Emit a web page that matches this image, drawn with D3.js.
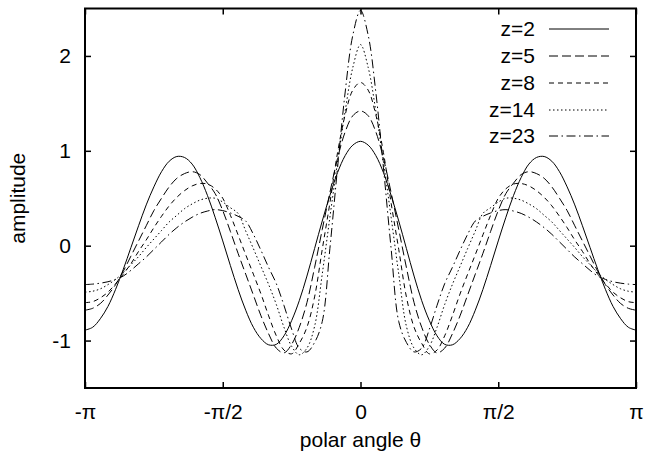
<!DOCTYPE html>
<html>
<head>
<meta charset="utf-8">
<script src="https://cdn.jsdelivr.net/npm/d3@7"></script>
<style>
  html, body { margin: 0; padding: 0; background: #fff; }
  svg { display: block; }
  text { font-family: "Liberation Sans", Arial, Helvetica, sans-serif; fill: #000; }
</style>
</head>
<body>
<svg id="chart" width="657" height="456"></svg>
<script>
// ---- data (polar angle in degrees) ----
const theta = [-180,-175,-170,-165,-160,-155,-150,-145,-140,-135,-130,-125,-120,-115,-110,-105,-100,-95,-90,-85,-80,-75,-70,-65,-60,-55,-50,-45,-40,-35,-30,-25,-20,-15,-10,-5,0,
  5,10,15,20,25,30,35,40,45,50,55,60,65,70,75,80,85,90,95,100,105,110,115,120,125,130,135,140,145,150,155,160,165,170,175,180];

const z2 = [-0.89,-0.86,-0.77,-0.64,-0.46,-0.25,-0.02,0.21,0.43,0.62,0.78,0.89,0.94,0.93,0.86,0.72,0.53,0.30,0.05,-0.21,-0.46,-0.68,-0.86,-0.98,-1.045,-1.04,-0.95,-0.79,-0.58,-0.32,-0.03,0.26,0.53,0.77,0.95,1.06,1.10,
  1.06,0.95,0.77,0.53,0.26,-0.03,-0.32,-0.58,-0.79,-0.95,-1.04,-1.045,-0.98,-0.86,-0.68,-0.46,-0.21,0.05,0.30,0.53,0.72,0.86,0.93,0.94,0.89,0.78,0.62,0.43,0.21,-0.02,-0.25,-0.46,-0.64,-0.77,-0.86,-0.89];

const z5 = [-0.68,-0.66,-0.61,-0.52,-0.41,-0.27,-0.11,0.05,0.21,0.37,0.50,0.62,0.71,0.76,0.78,0.75,0.66,0.55,0.37,0.15,-0.08,-0.30,-0.52,-0.74,-0.93,-1.08,-1.13,-1.04,-0.86,-0.60,-0.23,0.17,0.56,0.92,1.20,1.37,1.42,
  1.37,1.20,0.92,0.56,0.17,-0.23,-0.60,-0.86,-1.04,-1.13,-1.08,-0.93,-0.74,-0.52,-0.30,-0.08,0.15,0.37,0.55,0.66,0.75,0.78,0.76,0.71,0.62,0.50,0.37,0.21,0.05,-0.11,-0.27,-0.41,-0.52,-0.61,-0.66,-0.68];

const z8 = [-0.60,-0.59,-0.55,-0.49,-0.40,-0.30,-0.19,-0.06,0.06,0.19,0.31,0.42,0.51,0.58,0.63,0.655,0.65,0.60,0.50,0.32,0.115,-0.095,-0.30,-0.51,-0.74,-0.95,-1.10,-1.14,-1.03,-0.86,-0.54,-0.04,0.45,0.98,1.38,1.64,1.72,
  1.64,1.38,0.98,0.45,-0.04,-0.54,-0.86,-1.03,-1.14,-1.10,-0.95,-0.74,-0.51,-0.30,-0.095,0.115,0.32,0.50,0.60,0.65,0.655,0.63,0.58,0.51,0.42,0.31,0.19,0.06,-0.06,-0.19,-0.30,-0.40,-0.49,-0.55,-0.59,-0.60];

const z14 = [-0.49,-0.48,-0.455,-0.41,-0.355,-0.285,-0.20,-0.115,-0.02,0.07,0.16,0.25,0.32,0.39,0.44,0.48,0.50,0.50,0.46,0.40,0.34,0.155,-0.03,-0.22,-0.41,-0.62,-0.86,-1.06,-1.15,-1.08,-0.85,-0.30,0.30,0.88,1.42,1.88,2.12,
  1.88,1.42,0.88,0.30,-0.30,-0.85,-1.08,-1.15,-1.06,-0.86,-0.62,-0.41,-0.22,-0.03,0.155,0.34,0.40,0.46,0.50,0.50,0.48,0.44,0.39,0.32,0.25,0.16,0.07,-0.02,-0.115,-0.20,-0.285,-0.355,-0.41,-0.455,-0.48,-0.49];

const z23 = [-0.41,-0.405,-0.395,-0.38,-0.355,-0.32,-0.26,-0.19,-0.12,-0.04,0.04,0.12,0.19,0.25,0.30,0.34,0.365,0.38,0.37,0.345,0.31,0.26,0.12,-0.05,-0.23,-0.40,-0.63,-0.88,-1.08,-1.12,-1.02,-0.80,-0.03,0.82,1.62,2.22,2.48,
  2.22,1.62,0.82,-0.03,-0.80,-1.02,-1.12,-1.08,-0.88,-0.63,-0.40,-0.23,-0.05,0.12,0.26,0.31,0.345,0.37,0.38,0.365,0.34,0.30,0.25,0.19,0.12,0.04,-0.04,-0.12,-0.19,-0.26,-0.32,-0.355,-0.38,-0.395,-0.405,-0.41];

const seriesNames = ["z=2", "z=5", "z=8", "z=14", "z=23"];
const seriesValues = [z2, z5, z8, z14, z23];

const xTickValues = [-180, -90, 0, 90, 180];
const xTickLabels = ["-\u03C0", "-\u03C0/2", "0", "\u03C0/2", "\u03C0"];
const yTickValues = [-1, 0, 1, 2];
const yTickLabels = ["-1", "0", "1", "2"];

// ---- styles ----
const dashes = ["none", "9,4", "5,4", "1.5,2.5", "9,3.5,1.5,3.5"];
const FONT = 21;

// ---- layout ----
const W = 657, H = 456;
const plot = { left: 85, right: 636, top: 8.5, bottom: 388 };

const svg = d3.select("#chart");
const x = d3.scaleLinear().domain([-180, 180]).range([plot.left, plot.right]);
const y = d3.scaleLinear().domain([-1.5, 2.5]).range([plot.bottom, plot.top]);

svg.append("defs").append("clipPath").attr("id", "clip")
  .append("rect").attr("x", plot.left).attr("y", plot.top)
  .attr("width", plot.right - plot.left).attr("height", plot.bottom - plot.top);

// curves
const line = d3.line().curve(d3.curveCatmullRom.alpha(0.5))
  .x((d, i) => x(theta[i])).y(d => y(d));

const g = svg.append("g").attr("clip-path", "url(#clip)");
seriesValues.forEach((vals, k) => {
  g.append("path").datum(vals)
    .attr("d", line)
    .attr("fill", "none").attr("stroke", "#000").attr("stroke-width", 1)
    .attr("stroke-dasharray", dashes[k]);
});

// axes (inward ticks, mirrored)
const TK = 6;
const fmtX = d => xTickLabels[xTickValues.indexOf(d)];
const fmtY = d => yTickLabels[yTickValues.indexOf(d)];

const gx = svg.append("g").attr("transform", `translate(0,${plot.bottom})`)
  .call(d3.axisBottom(x).tickValues(xTickValues).tickFormat(fmtX).tickSize(-TK).tickPadding(16));
const gxt = svg.append("g").attr("transform", `translate(0,${plot.top})`)
  .call(d3.axisTop(x).tickValues(xTickValues).tickFormat("").tickSize(-TK));
const gy = svg.append("g").attr("transform", `translate(${plot.left},0)`)
  .call(d3.axisLeft(y).tickValues(yTickValues).tickFormat(fmtY).tickSize(-TK).tickPadding(14));
const gyr = svg.append("g").attr("transform", `translate(${plot.right},0)`)
  .call(d3.axisRight(y).tickValues(yTickValues).tickFormat("").tickSize(-TK));

[gx, gxt, gy, gyr].forEach(a => {
  a.select(".domain").remove();
  a.selectAll(".tick line").attr("stroke", "#000").attr("stroke-width", 1.5);
  a.selectAll("text").style("font-size", FONT + "px")
    .style("font-family", "'Liberation Sans', Arial, sans-serif").attr("fill", "#000");
});

// frame
svg.append("rect").attr("x", plot.left).attr("y", plot.top)
  .attr("width", plot.right - plot.left).attr("height", plot.bottom - plot.top)
  .attr("fill", "none").attr("stroke", "#000").attr("stroke-width", 2);

// axis titles
svg.append("text").attr("x", (plot.left + plot.right) / 2).attr("y", 447)
  .attr("text-anchor", "middle").style("font-size", FONT + "px")
  .text("polar angle \u03B8");
svg.append("text").attr("transform", `translate(25,${(plot.top + plot.bottom) / 2}) rotate(-90)`)
  .attr("text-anchor", "middle").style("font-size", FONT + "px")
  .text("amplitude");

// legend
const legBase = [36, 63, 90, 117, 143];
const legend = svg.append("g");
seriesNames.forEach((name, k) => {
  legend.append("text").attr("x", 535).attr("y", legBase[k])
    .attr("text-anchor", "end").style("font-size", FONT + "px").text(name);
  legend.append("line").attr("x1", 549).attr("x2", 609)
    .attr("y1", legBase[k] - 7).attr("y2", legBase[k] - 7)
    .attr("stroke", "#000").attr("stroke-width", 1)
    .attr("stroke-dasharray", dashes[k]);
});
</script>
</body>
</html>
